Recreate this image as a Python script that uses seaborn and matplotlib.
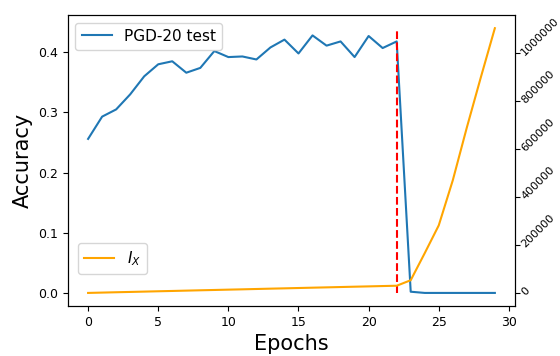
import numpy as np
import pandas as pd
import seaborn as sns
import matplotlib
matplotlib.use('Agg')
import matplotlib.pyplot as plt

epochs = list(range(30))
pgd_acc = [0.256, 0.293, 0.305, 0.330, 0.360, 0.380, 0.385, 0.366, 0.374, 0.402,
           0.392, 0.393, 0.388, 0.408, 0.421, 0.398, 0.428, 0.411, 0.418, 0.392,
           0.427, 0.407, 0.418, 0.002, 0.0, 0.0, 0.0, 0.0, 0.0, 0.0]
i_x = [0, 1400, 2800, 4100, 5500, 6900, 8200, 9600, 11000, 12300,
       13700, 15000, 16400, 17800, 19100, 20500, 21900, 23200, 24600, 26000,
       27300, 28700, 30000, 53000, 166000, 282000, 470000, 690000, 900000, 1105000]
switch_epoch = 22

df = pd.DataFrame({'epoch': epochs, 'acc': pgd_acc, 'ix': i_x})

fig = plt.figure(figsize=(5.6, 3.56), dpi=100)
ax = fig.add_axes([0.121, 0.14, 0.799, 0.818])
sns.lineplot(data=df, x='epoch', y='acc', ax=ax, color='#1f77b4', linewidth=1.5, label='PGD-20 test')
ax.vlines(switch_epoch, 0, 0.44, colors='red', linestyles='--', linewidth=1.5)
ax.set_xlabel('Epochs', fontsize=15)
ax.set_ylabel('Accuracy', fontsize=15)
ax.tick_params(labelsize=9)
ax.legend(loc='upper left', fontsize=11)

ax2 = ax.twinx()
sns.lineplot(data=df, x='epoch', y='ix', ax=ax2, color='orange', linewidth=1.5, label='$I_X$')
ax2.set_ylabel('')
ax2.ticklabel_format(axis='y', style='plain')
ax2.tick_params(labelsize=8, pad=1.5)
for lbl in ax2.get_yticklabels():
    lbl.set_rotation(45)
    lbl.set_rotation_mode('anchor')
    lbl.set_verticalalignment('center_baseline')
ax2.legend(loc='lower left', bbox_to_anchor=(0.005, 0.085), fontsize=11)

fig.savefig('out.png', dpi=100)
